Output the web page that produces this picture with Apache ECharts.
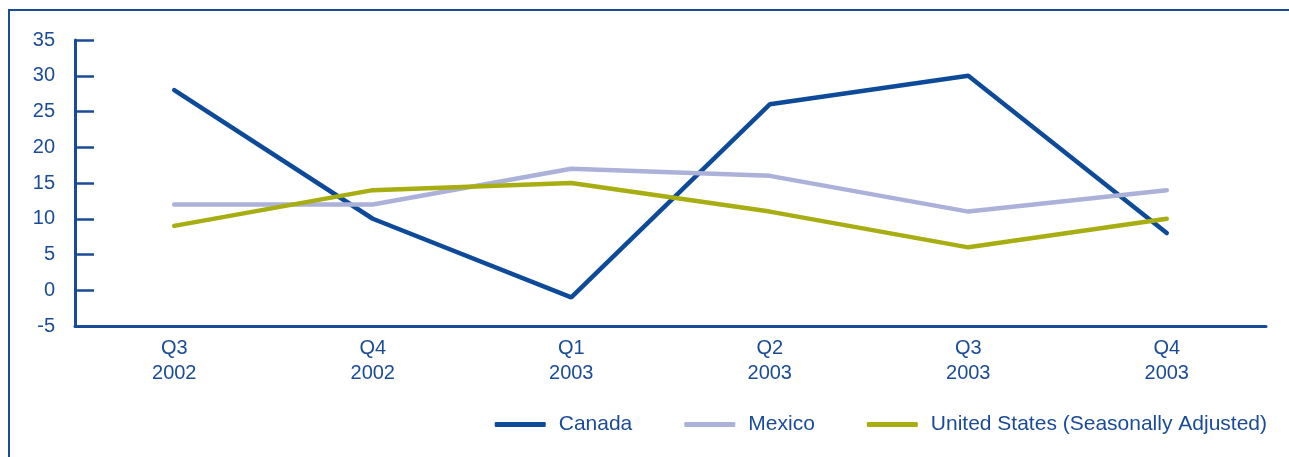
<!DOCTYPE html>
<html>
<head>
<meta charset="utf-8">
<script src="https://cdn.jsdelivr.net/npm/echarts@6/dist/echarts.min.js"></script>
<style>
  html, body { margin: 0; padding: 0; background: #fff; }
  #chart { width: 1289px; height: 457px; }
</style>
</head>
<body>
<div id="chart"></div>
<script>
var categories = ['Q3\n2002', 'Q4\n2002', 'Q1\n2003', 'Q2\n2003', 'Q3\n2003', 'Q4\n2003'];
var canada = [28, 10, -1, 26, 30, 8];
var mexico = [12, 12, 17, 16, 11, 14];
var unitedStates = [9, 14, 15, 11, 6, 10];

var blue = '#1a4b98';
var font = '"Liberation Sans", Arial, Helvetica, sans-serif';

var mychart = echarts.init(document.getElementById('chart'));
var option = {
    backgroundColor: '#fff',
    animation: false,
    textStyle: { fontFamily: font },
    graphic: [
        {
            type: 'polyline',
            shape: { points: [[9, 470], [9, 10], [1300, 10]] },
            style: { stroke: blue, lineWidth: 2, fill: null }
        }
    ],
    grid: { left: 75, right: 23, top: 40, bottom: 131 },
    legend: {
        right: 17,
        top: 409,
        itemWidth: 51,
        itemHeight: 5,
        itemGap: 52,
        icon: 'roundRect',
        textStyle: { color: blue, fontSize: 21, fontFamily: font, padding: [0, 0, 0, 8] },
        data: ['Canada', 'Mexico', 'United States (Seasonally Adjusted)']
    },
    xAxis: {
        type: 'category',
        data: categories,
        boundaryGap: true,
        axisLine: { onZero: false, lineStyle: { color: blue, width: 3 } },
        axisTick: { alignWithLabel: true, inside: true, length: 6, lineStyle: { color: blue, width: 2 } },
        axisLabel: { color: blue, fontSize: 20, lineHeight: 25, margin: 10, fontFamily: font },
        splitLine: { show: false }
    },
    yAxis: {
        type: 'value',
        min: -5,
        max: 35,
        interval: 5,
        axisLine: { show: true, lineStyle: { color: blue, width: 3 } },
        axisTick: { show: true, inside: true, length: 19, lineStyle: { color: blue, width: 2.5 } },
        axisLabel: { color: blue, fontSize: 20, margin: 20, fontFamily: font },
        splitLine: { show: false }
    },
    series: [
        {
            name: 'Canada',
            type: 'line',
            data: canada,
            showSymbol: false,
            symbol: 'none',
            lineStyle: { width: 4.5, color: '#0d4a99', cap: 'round' },
            itemStyle: { color: '#0d4a99' }
        },
        {
            name: 'Mexico',
            type: 'line',
            data: mexico,
            showSymbol: false,
            symbol: 'none',
            lineStyle: { width: 4.5, color: '#abb1d8', cap: 'round' },
            itemStyle: { color: '#abb1d8' }
        },
        {
            name: 'United States (Seasonally Adjusted)',
            type: 'line',
            data: unitedStates,
            showSymbol: false,
            symbol: 'none',
            lineStyle: { width: 4.5, color: '#a8ad12', cap: 'round' },
            itemStyle: { color: '#a8ad12' }
        }
    ]
};
mychart.setOption(option);
window.addEventListener('resize', function () {
    mychart.resize();
});
</script>
</body>
</html>
